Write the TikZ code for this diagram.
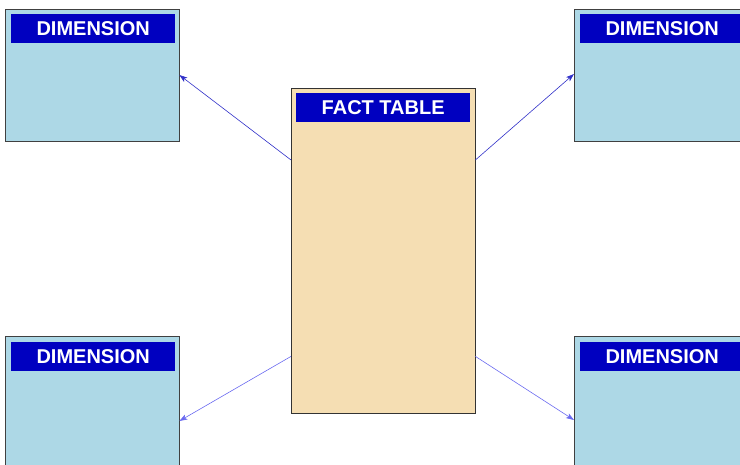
\documentclass[tikz,border=0pt]{standalone}
\usepackage{fontspec}
\setmainfont{Liberation Sans}
\definecolor{DIMFILL}{HTML}{ADD8E6}
\definecolor{FACTFILL}{HTML}{F5DEB3}
\definecolor{HEAD}{HTML}{0000C0}
\definecolor{LINKDARK}{HTML}{3030C8}
\definecolor{LINKLIGHT}{HTML}{6A6AF0}
\usetikzlibrary{arrows.meta,calc,positioning}

\begin{document}
\begin{tikzpicture}
[x=1pt, y=-1pt,
dimbox/.style ={rectangle, draw=black!75, fill=DIMFILL, anchor=north west,
minimum width=174pt, minimum height=132pt, inner sep=0pt},
factbox/.style ={rectangle, draw=black!80, fill=FACTFILL, anchor=north west,
minimum width=184pt, minimum height=325pt, inner sep=0pt},
header/.style ={rectangle, fill=HEAD, text=white, font=\bfseries\fontsize{20}{22}\selectfont,
minimum height=29pt, inner sep=0pt, anchor=north},
link/.style={-{Stealth[length=8pt,width=5.5pt,inset=2pt]}, semithick}]
\useasboundingbox (0,0) rectangle (740,465);
\clip (0,0) rectangle (740,465);
% tables
\node[factbox] (fact) at (291,88) {};
\node[dimbox] (dimTL) at (5,9) {};
\node[dimbox] (dimTR) at (574,9) {};
\node[dimbox] (dimBL) at (5,336) {};
\node[dimbox] (dimBR) at (574,336) {};
% headers
\node[header, minimum width=174pt] (factH) at ($(fact.north)+(0,5)$) {FACT TABLE};
\node[header, minimum width=164pt] (dimTLH) at ($(dimTL.north)+(1,5)$) {DIMENSION};
\node[header, minimum width=164pt] (dimTRH) at ($(dimTR.north)+(1,5)$) {DIMENSION};
\node[header, minimum width=164pt] (dimBLH) at ($(dimBL.north)+(1,6)$) {DIMENSION};
\node[header, minimum width=164pt] (dimBRH) at ($(dimBR.north)+(1,6)$) {DIMENSION};
% links
\coordinate (fTL) at ($(fact.north west)+(0,72)$);
\coordinate (fTR) at ($(fact.north east)+(0,72)$);
\coordinate (fBL) at ($(fact.south west)+(0,-57)$);
\coordinate (fBR) at ($(fact.south east)+(0,-57)$);
\draw[link,LINKDARK] (fTL) -- ($(dimTL.north east)+(0,66)$);
\draw[link,LINKDARK] (fTR) -- ($(dimTR.north west)+(0,65)$);
\draw[link,LINKLIGHT] (fBL) -- ($(dimBL.north east)+(0,85)$);
\draw[link,LINKLIGHT] (fBR) -- ($(dimBR.north west)+(0,84)$);
\end{tikzpicture}
\end{document}
